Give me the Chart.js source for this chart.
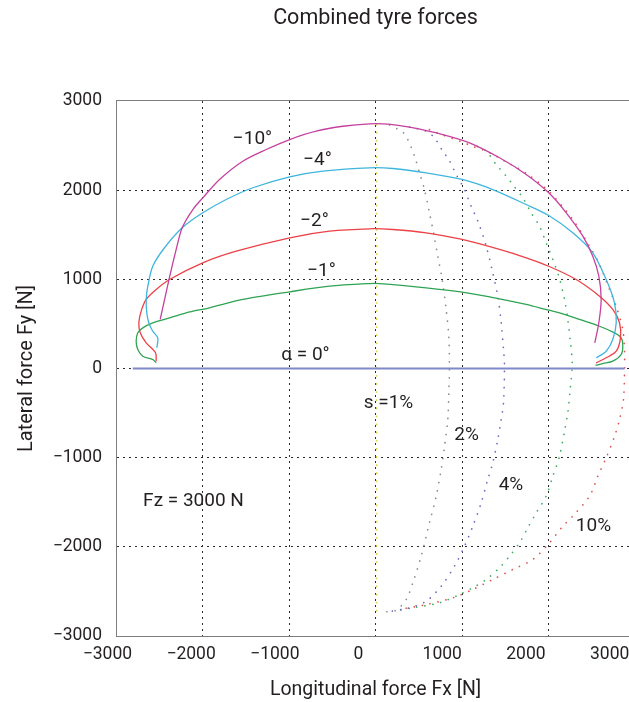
<!DOCTYPE html>
<html><head><meta charset="utf-8">
<script src="https://cdn.jsdelivr.net/npm/chart.js@4.4.1/dist/chart.umd.min.js"></script>
<style>html,body{margin:0;padding:0;background:#fff;overflow:hidden;width:629px;height:702px}canvas{display:block}</style>
</head><body><canvas id="c" width="640" height="702" style="width:640px;height:702px"></canvas>
<script>
// ---- tick labels ----
const xTicks = [-3000, -2000, -1000, 0, 1000, 2000, 3000];
const yTicks = [-3000, -2000, -1000, 0, 1000, 2000, 3000];

// ---- slip angle curves (Fx, Fy in N) ----
const fxA10 = [-2489, -2389, -2304, -2235, -2112, -1997, -1803, -1534, -1264, -991, -686, -378, -69, 150, 393, 778, 1087, 1434, 1742, 2003, 2205, 2397, 2512, 2582, 2609, 2582, 2535];
const fyA10 = [550, 990, 1335, 1578, 1783, 1914, 2120, 2325, 2456, 2568, 2661, 2717, 2744, 2740, 2706, 2624, 2531, 2363, 2176, 1970, 1746, 1484, 1259, 1035, 774, 513, 288];

const fxA4 = [-2528, -2517, -2575, -2621, -2644, -2651, -2632, -2575, -2439, -2235, -1997, -1726, -1419, -991, -609, -69, 200, 586, 1002, 1356, 1742, 2003, 2281, 2512, 2667, 2763, 2783, 2743, 2667, 2551];
const fyA4 = [232, 344, 418, 513, 625, 774, 923, 1147, 1354, 1578, 1746, 1895, 2027, 2150, 2213, 2251, 2243, 2195, 2120, 2007, 1839, 1716, 1522, 1298, 998, 737, 513, 325, 194, 120];

const fxA2 = [-2535, -2543, -2651, -2720, -2736, -2709, -2651, -2535, -2382, -1997, -1610, -991, -532, -69, 200, 586, 1002, 1434, 1742, 2003, 2320, 2590, 2743, 2821, 2832, 2783, 2667, 2551];
const fyA2 = [82, 176, 288, 400, 513, 643, 774, 886, 998, 1185, 1315, 1466, 1540, 1567, 1559, 1522, 1447, 1335, 1241, 1147, 998, 811, 662, 513, 344, 194, 120, 64];

const fxA1 = [-2535, -2575, -2690, -2748, -2767, -2748, -2690, -2575, -2420, -2188, -1919, -1534, -991, -532, -69, 46, 586, 1002, 1434, 1742, 2003, 2127, 2358, 2590, 2763, 2840, 2859, 2840, 2743, 2628, 2543];
const fyA1 = [64, 101, 138, 213, 306, 400, 456, 512, 557, 625, 681, 774, 860, 923, 953, 953, 905, 856, 782, 718, 654, 625, 550, 474, 400, 344, 250, 157, 82, 56, 34];

const fxA0 = [-2806, 2879];
const fyA0 = [0, 0];

// ---- constant slip curves ----
const fxS1 = [12, 12];
const fyS1 = [2735, -2730];

const fxS2 = [162, 316, 373, 451, 509, 566, 624, 671, 720, 771, 817, 847, 855, 847, 836, 798, 759, 702, 624, 528, 431, 355, 239, 124];
const fyS2 = [2731, 2650, 2568, 2381, 2195, 2008, 1746, 1522, 1259, 998, 662, 362, 26, -292, -572, -871, -1133, -1432, -1731, -2105, -2404, -2591, -2711, -2729];

const fxS4 = [393, 586, 682, 778, 847, 933, 1029, 1106, 1183, 1280, 1356, 1414, 1453, 1480, 1491, 1480, 1453, 1414, 1356, 1298, 1222, 1125, 1029, 913, 760, 586, 355, 124];
const fyS4 = [2708, 2661, 2587, 2437, 2344, 2176, 2007, 1820, 1652, 1372, 1073, 811, 513, 213, 26, -385, -572, -796, -1058, -1245, -1506, -1769, -1993, -2217, -2441, -2610, -2695, -2729];

const fxS6 = [1179, 1280, 1395, 1511, 1587, 1703, 1800, 1896, 1973, 2050, 2119, 2185, 2223, 2254, 2274, 2251, 2223, 2185, 2127, 2050, 1973, 1858, 1761, 1665, 1549, 1434, 1280, 1125, 971, 740, 431, 239];
const fyS6 = [2490, 2437, 2288, 2157, 2063, 1914, 1746, 1596, 1410, 1222, 1035, 774, 550, 288, 64, -236, -497, -703, -984, -1208, -1432, -1618, -1786, -1955, -2105, -2235, -2366, -2459, -2535, -2628, -2684, -2711];

const fxS10 = [624, 778, 971, 1145, 1318, 1491, 1746, 2012, 2281, 2474, 2590, 2705, 2783, 2859, 2879, 2879, 2867, 2821, 2763, 2667, 2570, 2474, 2281, 2165, 2012, 1818, 1587, 1356, 1125, 894, 586, 316];
const fyS10 = [2680, 2619, 2551, 2484, 2422, 2327, 2187, 1979, 1671, 1372, 1166, 886, 699, 437, 176, -45, -348, -572, -763, -1001, -1208, -1432, -1656, -1769, -1955, -2142, -2254, -2366, -2478, -2572, -2647, -2695];

// ---- annotation texts and their anchor values (data units) ----
const annoText = ['\u221210\u00b0', '\u22124\u00b0', '\u22122\u00b0', '\u22121\u00b0', '\u03b1 = 0\u00b0', 's =1%', '2%', '4%', '10%', 'Fz = 3000 N'];
const annoFx = [-1422, -671, -705, -624, -809, 150, 1052, 1566, 2520, -2104];
const annoFy = [2574, 2333, 1649, 1093, 146, -393, -752, -1307, -1772, -1492];

const FONT = 'Roboto';
const TEXT = '#231f20';
const FRAME = '#7d7d7d';
const fmt = v => String(v).replace('-', '\u2212');
const pts = (xs, ys) => xs.map((x, i) => ({x: x, y: ys[i]}));
const solid = (label, xs, ys, color, w) => ({label, data: pts(xs, ys), showLine: true, borderColor: color, backgroundColor: color, borderWidth: w, pointRadius: 0, tension: 0.3, fill: false, order: 1});
const dotted = (label, xs, ys, color) => ({label, data: pts(xs, ys), showLine: true, borderColor: color, backgroundColor: color, borderWidth: 1.7, borderDash: [0.1, 8], borderCapStyle: 'round', pointRadius: 0, tension: 0.3, fill: false, order: 2});

const annoPlugin = {
  id: 'anno',
  afterDatasetsDraw(chart) {
    const {ctx, scales} = chart;
    ctx.save();
    ctx.font = '19px ' + FONT;
    ctx.fillStyle = TEXT;
    ctx.textAlign = 'center';
    ctx.textBaseline = 'middle';
    annoText.forEach((t, i) => ctx.fillText(t, scales.x.getPixelForValue(annoFx[i]), scales.y.getPixelForValue(annoFy[i])));
    ctx.restore();
  }
};

function build() {
  new Chart(document.getElementById('c'), {
    type: 'scatter',
    data: {
      datasets: [
        solid('\u221210\u00b0', fxA10, fyA10, '#c5409f', 1.3),
        solid('\u22124\u00b0', fxA4, fyA4, '#3fb5de', 1.3),
        solid('\u22122\u00b0', fxA2, fyA2, '#ec4146', 1.3),
        solid('\u22121\u00b0', fxA1, fyA1, '#2ea352', 1.3),
        solid('0\u00b0', fxA0, fyA0, '#7f88c9', 2),
        dotted('s=1%', fxS1, fyS1, '#d9cf3c'),
        dotted('2%', fxS2, fyS2, '#8c8c8c'),
        dotted('4%', fxS4, fyS4, '#6b6bc2'),
        dotted('6%', fxS6, fyS6, '#3fae5f'),
        dotted('10%', fxS10, fyS10, '#e25252')
      ]
    },
    options: {
      responsive: false,
      animation: false,
      devicePixelRatio: 1,
      layout: {padding: {left: 0, right: 5, top: 0, bottom: 0}},
      plugins: {
        legend: {display: false},
        tooltip: {enabled: false},
        title: {display: true, text: 'Combined tyre forces', fullSize: false, color: TEXT,
                font: {family: FONT, size: 21.5, weight: 'normal'}, padding: {top: 5.6, bottom: 69.6}}
      },
      scales: {
        x: {type: 'linear', position: 'bottom', min: -3000, max: 3000,
            afterBuildTicks: s => { s.ticks = xTicks.map(v => ({value: v})); },
            ticks: {display: false},
            grid: {drawTicks: false, lineWidth: 1, color: c => (c.tick && Math.abs(c.tick.value) === 3000) ? 'rgba(0,0,0,0)' : '#2a2a2a'},
            border: {display: false, dash: [2, 4]},
            afterFit: s => { s.height = 0; }},
        xLab: {type: 'linear', position: 'bottom', min: -2897, max: 3303,
            afterBuildTicks: s => { s.ticks = xTicks.map(v => ({value: v})); },
            ticks: {autoSkip: false, maxRotation: 0, padding: 8, color: TEXT, font: {family: FONT, size: 17.5}, callback: v => fmt(v)},
            grid: {display: false, drawTicks: false},
            border: {display: true, color: FRAME, width: 1},
            title: {display: true, text: 'Longitudinal force Fx [N]', color: TEXT, font: {family: FONT, size: 19.5}, padding: {top: 0, bottom: 0}},
            afterFit: s => { s.height = 66; }},
        xTop: {type: 'linear', position: 'top', min: -3000, max: 3000,
            ticks: {display: false}, grid: {display: false, drawTicks: false},
            border: {display: true, color: FRAME, width: 1},
            afterFit: s => { s.height = 0; }},
        y: {type: 'linear', position: 'left', min: -3000, max: 3000,
            afterBuildTicks: s => { s.ticks = yTicks.map(v => ({value: v})); },
            ticks: {padding: 14, color: TEXT, font: {family: FONT, size: 17.5}, callback: v => fmt(v)},
            grid: {drawTicks: false, lineWidth: 1, color: c => (c.tick && Math.abs(c.tick.value) === 3000) ? 'rgba(0,0,0,0)' : '#2a2a2a'},
            border: {display: true, color: FRAME, width: 1, dash: [2, 4]},
            title: {display: true, text: 'Lateral force Fy [N]', color: TEXT, font: {family: FONT, size: 20}, padding: {top: 15, bottom: 0}},
            afterFit: s => { s.width = 116; }}
      }
    },
    plugins: [annoPlugin]
  });
}
if (document.fonts && document.fonts.load) {
  Promise.all([document.fonts.load('19px Roboto'), document.fonts.load('17.5px Roboto')]).then(build, build);
} else { build(); }
</script></body></html>
